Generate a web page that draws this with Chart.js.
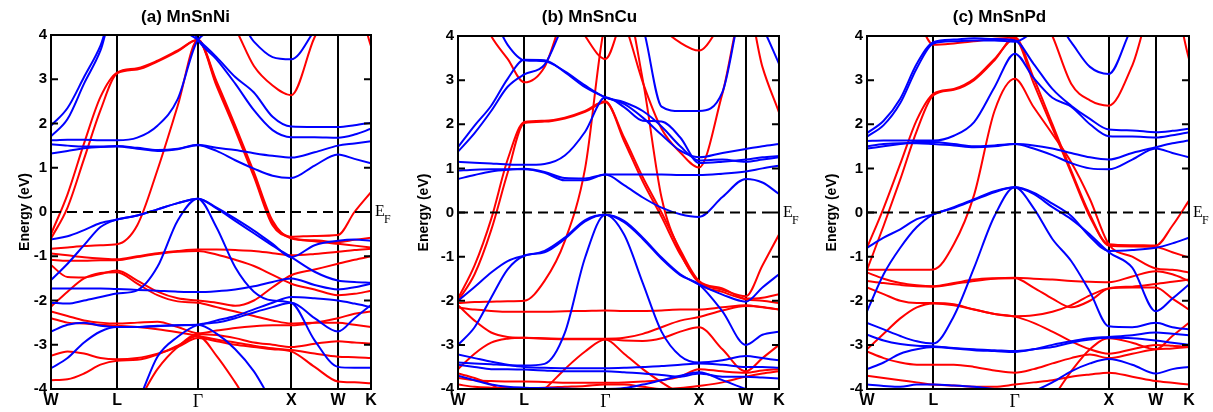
<!DOCTYPE html>
<html>
<head>
<meta charset="utf-8">
<script src="https://cdn.jsdelivr.net/npm/chart.js@4.4.1/dist/chart.umd.min.js"></script>
<style>
    body { margin: 0; background: #fff; }
    #wrap { position: relative; width: 1213px; height: 412px; }
    canvas { position: absolute; top: 0; }
</style>
</head>
<body>
<div id="wrap">
    <canvas id="ni" width="400" height="412" style="left:0px"></canvas>
    <canvas id="cu" width="410" height="412" style="left:400px"></canvas>
    <canvas id="pd" width="403" height="412" style="left:810px"></canvas>
</div>
<script>
// k-path W-L-Γ-X-W-K (units of 2π/a), sample points shared by all bands
const kPath = [0, 0.177, 0.354, 0.530, 0.707, 0.924, 1.140, 1.357, 1.573, 1.773, 1.973, 2.173, 2.373, 2.573, 2.823, 3.073, 3.250, 3.427];
const kTicks = [0, 0.707, 1.573, 2.573, 3.073, 3.427];
const kLabels = ['W', 'L', 'Γ', 'X', 'W', 'K'];
const energyTicks = [-4, -3, -2, -1, 0, 1, 2, 3, 4];
const fermiLevel = 0;

// (a) MnSnNi
const niRed = [
    [-0.5, 0.4, 1.55, 2.6, 3.15, 3.25, 3.42, 3.65, 3.89, 2.85, 1.85, 0.8, -0.3, -0.56, -0.54, -0.52, 0.0, 0.45],
    [-0.6, 0.1, 1.2, 2.3, 3.13, 3.22, 3.4, 3.63, 3.89, 2.95, 1.95, 0.9, -0.2, -0.6, -0.64, -0.68, -0.63, -0.58],
    [-0.83, -0.8, -0.77, -0.75, -0.73, -0.3, 0.95, 2.4, 3.89, 2.9, 1.9, 0.85, -0.25, -0.58, -0.66, -0.72, -0.76, -0.8],
    [-0.94, -0.98, -1.02, -1.05, -1.07, -1.0, -0.93, -0.88, -0.85, -0.85, -0.86, -0.88, -0.93, -0.98, -0.95, -0.9, -0.86, -0.83],
    [-1.08, -1.1, -1.1, -1.09, -1.09, -1.02, -0.95, -0.9, -0.88, -0.96, -1.08, -1.22, -1.42, -1.62, -1.75, -1.88, -1.85, -1.78],
    [-1.2, -1.47, -1.48, -1.4, -1.32, -1.55, -1.8, -1.95, -2.0, -2.05, -2.12, -2.0, -1.7, -1.43, -1.3, -1.17, -1.08, -1.0],
    [-2.14, -1.8, -1.5, -1.38, -1.36, -1.62, -1.88, -2.02, -2.05, -2.15, -2.25, -2.35, -2.45, -2.52, -2.5, -2.5, -2.55, -2.6],
    [-2.25, -2.35, -2.45, -2.5, -2.52, -2.5, -2.48, -2.6, -2.74, -2.68, -2.62, -2.58, -2.56, -2.56, -2.5, -2.4, -2.3, -2.25],
    [-2.4, -2.5, -2.52, -2.55, -2.57, -2.6, -2.65, -2.72, -2.8, -2.88, -2.95, -3.02, -3.08, -3.12, -3.2, -3.27, -3.28, -3.3],
    [-3.25, -3.15, -3.2, -3.3, -3.33, -3.3, -3.2, -3.05, -2.85, -2.92, -3.0, -3.05, -3.1, -3.15, -3.5, -3.83, -3.85, -3.87],
    [-3.8, -3.78, -3.65, -3.45, -3.36, -3.34, -3.22, -3.02, -2.8, -3.25, -3.85, -4.5, -4.8, -4.8, -4.8, -4.8, -4.8, -4.8],
    [-4.8, -4.8, -4.8, -4.8, -4.8, -4.3, -3.55, -3.05, -2.76, -2.78, -2.85, -2.95, -3.0, -3.05, -2.98, -2.92, -2.95, -2.97],
    [4.8, 4.8, 4.8, 4.8, 4.8, 4.8, 4.8, 4.8, 4.8, 4.8, 4.15, 3.3, 2.86, 2.64, 3.95, 4.8, 4.8, 3.75]
];
const niBlue = [
    [1.95, 2.35, 3.05, 3.76, 4.8, 4.8, 4.8, 4.2, 3.89, 3.5, 3.05, 2.7, 2.15, 1.93, 1.92, 1.92, 1.96, 2.02],
    [1.71, 2.1, 2.9, 3.65, 4.8, 4.8, 4.8, 4.8, 3.89, 3.45, 2.9, 2.3, 1.85, 1.69, 1.69, 1.68, 1.75, 1.88],
    [1.62, 1.63, 1.63, 1.62, 1.62, 1.68, 1.95, 2.55, 3.89, 4.1, 4.4, 3.85, 3.5, 3.45, 4.1, 4.8, 4.8, 4.8],
    [1.53, 1.5, 1.48, 1.48, 1.49, 1.45, 1.4, 1.43, 1.52, 1.45, 1.4, 1.33, 1.27, 1.23, 1.35, 1.5, 1.55, 1.6],
    [1.32, 1.38, 1.44, 1.47, 1.48, 1.43, 1.38, 1.42, 1.51, 1.38, 1.17, 0.98, 0.82, 0.77, 1.05, 1.3, 1.2, 1.1],
    [-0.62, -0.55, -0.41, -0.25, -0.17, -0.08, 0.06, 0.2, 0.3, 0.1, -0.15, -0.42, -0.72, -1.02, -0.75, -0.65, -0.62, -0.65],
    [-1.54, -1.17, -0.75, -0.34, -0.17, -0.08, 0.06, 0.2, 0.3, 0.08, -0.2, -0.48, -0.76, -1.02, -1.35, -1.55, -1.58, -1.6],
    [-2.05, -2.07, -2.0, -1.92, -1.84, -1.77, -1.24, -0.19, 0.3, -0.35, -1.25, -1.8, -2.0, -2.05, -2.9, -3.5, -3.52, -3.52],
    [-1.73, -1.73, -1.73, -1.73, -1.74, -1.76, -1.78, -1.8, -1.81, -1.79, -1.75, -1.68, -1.58, -1.5, -1.65, -1.75, -1.7, -1.62],
    [-2.7, -2.55, -2.5, -2.57, -2.6, -2.6, -2.58, -2.56, -2.55, -2.45, -2.35, -2.2, -2.05, -1.92, -1.95, -2.0, -2.07, -2.15],
    [-3.53, -3.3, -2.95, -2.7, -2.6, -2.6, -2.57, -2.56, -2.55, -2.75, -3.1, -3.6, -4.3, -4.8, -4.8, -4.8, -4.8, -4.8],
    [-4.8, -4.8, -4.8, -4.8, -4.8, -4.3, -3.27, -2.82, -2.55, -2.5, -2.4, -2.27, -2.15, -2.05, -2.4, -2.7, -2.4, -2.1]
];

// (b) MnSnCu
const cuRed = [
    [-1.95, -1.2, -0.15, 1.2, 2.05, 2.08, 2.15, 2.3, 2.52, 1.62, 0.7, -0.1, -0.95, -1.57, -1.75, -1.9, -1.2, -0.5],
    [-2.0, -1.4, -0.4, 0.9, 2.03, 2.06, 2.13, 2.28, 2.5, 1.7, 0.8, 0.0, -0.85, -1.55, -1.72, -1.95, -1.93, -1.85],
    [-2.05, -2.03, -2.02, -2.01, -2.0, -1.55, -0.65, 1.0, 4.3, 4.8, 3.0, 0.34, -0.9, -1.6, -1.8, -1.97, -2.0, -2.05],
    [4.8, 4.8, 4.8, 4.8, 4.8, 4.8, 4.8, 4.8, 4.8, 4.3, 2.95, 1.9, 1.36, 1.02, 2.7, 4.8, 4.8, 4.8],
    [4.8, 4.8, 4.8, 4.8, 4.8, 4.8, 4.8, 4.8, 4.8, 4.8, 4.8, 4.2, 3.85, 3.67, 4.3, 4.8, 4.8, 4.8],
    [4.8, 4.8, 4.8, 4.8, 4.8, 4.8, 4.8, 4.8, 4.8, 4.8, 4.8, 4.8, 4.8, 4.8, 4.8, 4.8, 3.3, 2.27],
    [4.8, 4.8, 4.0, 3.48, 2.95, 3.3, 4.5, 4.8, 4.8, 4.8, 4.8, 4.8, 4.8, 4.8, 4.8, 4.8, 4.8, 4.8],
    [4.8, 4.8, 4.8, 4.8, 4.8, 4.8, 4.8, 4.0, 3.48, 4.5, 4.8, 4.8, 4.8, 4.8, 4.8, 4.8, 4.8, 4.8],
    [-2.15, -2.2, -2.23, -2.25, -2.25, -2.25, -2.24, -2.23, -2.22, -2.23, -2.23, -2.22, -2.2, -2.2, -2.15, -2.1, -2.15, -2.2],
    [-2.1, -2.45, -2.72, -2.82, -2.84, -2.86, -2.87, -2.87, -2.87, -2.9, -2.91, -2.85, -2.7, -2.6, -3.1, -3.6, -3.3, -3.0],
    [-3.55, -3.2, -2.95, -2.86, -2.84, -2.85, -2.86, -2.86, -2.86, -2.84, -2.75, -2.6, -2.45, -2.37, -2.22, -2.12, -2.14, -2.2],
    [-3.65, -3.75, -3.9, -4.1, -4.3, -4.0, -3.55, -3.15, -2.88, -3.2, -3.55, -3.85, -4.1, -4.3, -4.3, -4.2, -4.2, -4.2],
    [-3.75, -3.8, -3.82, -3.83, -3.83, -3.84, -3.86, -3.86, -3.86, -3.85, -3.83, -3.8, -3.72, -3.55, -3.6, -3.63, -3.58, -3.55],
    [-3.9, -3.95, -3.97, -3.98, -3.98, -3.97, -3.95, -3.93, -3.9, -3.9, -3.95, -4.0, -3.98, -3.93, -3.85, -3.72, -3.65, -3.6]
];
const cuBlue = [
    [1.48, 1.97, 2.42, 3.03, 3.46, 3.45, 3.18, 2.84, 2.61, 2.46, 2.15, 1.76, 1.4, 1.25, 1.35, 1.44, 1.5, 1.55],
    [1.38, 1.8, 2.3, 2.85, 3.13, 3.35, 4.3, 4.8, 4.8, 4.8, 4.2, 2.4, 2.3, 2.3, 2.73, 4.8, 4.2, 3.37],
    [1.15, 1.13, 1.11, 1.09, 1.08, 1.1, 1.29, 1.83, 2.61, 2.39, 2.08, 2.06, 1.7, 1.12, 1.15, 1.2, 1.25, 1.28],
    [0.95, 0.97, 0.98, 0.98, 0.98, 0.9, 0.73, 0.73, 0.86, 0.86, 0.86, 0.86, 0.85, 0.85, 0.88, 0.93, 1.0, 1.06],
    [0.76, 0.85, 0.93, 0.97, 0.99, 0.92, 0.78, 0.77, 0.86, 0.62, 0.34, 0.11, -0.04, -0.1, 0.35, 0.76, 0.68, 0.42],
    [4.8, 4.8, 4.5, 3.8, 3.45, 3.43, 3.2, 2.88, 2.61, 2.5, 2.3, 1.95, 1.5, 1.18, 1.2, 1.15, 1.2, 1.25],
    [-2.0, -1.69, -1.36, -1.1, -0.98, -0.87, -0.57, -0.17, -0.05, -0.19, -0.57, -1.02, -1.4, -1.63, -1.86, -2.02, -1.7, -1.4],
    [-3.0, -2.6, -1.93, -1.29, -0.98, -0.9, -0.6, -0.2, -0.05, -0.22, -0.6, -1.05, -1.42, -1.63, -2.24, -3.0, -2.77, -2.7],
    [-3.4, -3.42, -3.44, -3.46, -3.47, -3.43, -2.73, -1.02, -0.05, -0.5, -1.6, -2.7, -3.25, -3.4, -3.35, -3.25, -3.3, -3.35],
    [-3.22, -3.3, -3.38, -3.45, -3.5, -3.52, -3.53, -3.53, -3.53, -3.52, -3.5, -3.48, -3.45, -3.42, -3.45, -3.5, -3.5, -3.52],
    [-3.45, -3.5, -3.55, -3.55, -3.56, -3.58, -3.6, -3.6, -3.6, -3.62, -3.65, -3.68, -3.72, -3.65, -3.72, -3.72, -3.74, -3.76],
    [-3.7, -3.8, -3.9, -3.95, -3.97, -3.98, -3.99, -4.0, -4.0, -3.98, -3.9, -3.8, -3.7, -3.62, -3.8, -4.0, -4.1, -4.2]
];

// (c) MnSnPd
const pdRed = [
    [-0.8, 0.1, 1.1, 2.1, 2.69, 2.8, 3.03, 3.48, 3.94, 2.93, 1.92, 0.9, -0.1, -0.72, -0.74, -0.75, -0.3, 0.27],
    [-1.3, -0.3, 0.75, 1.85, 2.66, 2.78, 3.0, 3.45, 3.97, 3.05, 2.0, 0.95, -0.05, -0.75, -0.77, -0.78, -0.9, -1.02],
    [-1.3, -1.3, -1.3, -1.3, -1.29, -0.72, 0.4, 2.3, 3.03, 2.39, 1.78, 1.14, 0.3, -0.72, -1.0, -1.27, -1.3, -1.36],
    [4.8, 4.8, 4.8, 4.8, 4.8, 4.8, 4.8, 4.8, 4.8, 4.8, 4.0, 2.92, 2.54, 2.42, 3.33, 4.8, 4.8, 3.48],
    [4.8, 4.8, 4.8, 4.4, 3.8, 3.83, 3.88, 3.94, 3.98, 4.5, 4.8, 4.8, 4.8, 4.8, 4.8, 4.8, 4.8, 4.8],
    [-1.36, -1.5, -1.6, -1.65, -1.67, -1.6, -1.52, -1.49, -1.48, -1.5, -1.52, -1.55, -1.57, -1.58, -1.45, -1.33, -1.4, -1.55],
    [-1.55, -1.6, -1.64, -1.67, -1.68, -1.62, -1.55, -1.5, -1.49, -1.7, -1.95, -2.15, -2.0, -1.72, -1.68, -1.62, -1.57, -1.52],
    [-1.7, -1.85, -2.0, -2.05, -2.05, -2.08, -2.2, -2.3, -2.35, -2.33, -2.25, -2.1, -1.88, -1.72, -1.7, -1.7, -1.95, -2.2],
    [-3.1, -2.75, -2.4, -2.15, -2.06, -2.1, -2.2, -2.3, -2.36, -2.5, -2.7, -2.92, -3.1, -3.2, -3.1, -3.0, -3.02, -3.05],
    [-3.15, -3.3, -3.4, -3.45, -3.45, -3.45, -3.5, -3.58, -3.63, -3.55, -3.42, -3.3, -3.22, -3.3, -3.2, -3.1, -3.08, -3.05],
    [-3.7, -3.75, -3.8, -3.85, -3.9, -3.92, -3.95, -3.95, -3.9, -3.85, -3.8, -3.72, -3.67, -3.63, -3.72, -3.82, -3.86, -3.9],
    [-4.8, -4.8, -4.8, -4.8, -4.8, -4.8, -4.8, -4.8, -4.8, -4.6, -4.2, -3.6, -3.1, -2.85, -2.95, -3.1, -2.8, -2.5]
];
const pdBlue = [
    [1.8, 2.08, 2.58, 3.37, 3.86, 3.92, 3.95, 3.93, 3.9, 3.37, 2.8, 2.42, 2.12, 1.88, 1.86, 1.82, 1.85, 1.9],
    [1.72, 1.98, 2.48, 3.27, 3.83, 3.88, 3.9, 3.9, 3.87, 4.1, 4.4, 3.86, 3.3, 3.14, 4.2, 4.8, 4.8, 4.8],
    [1.62, 1.63, 1.63, 1.63, 1.63, 1.74, 2.05, 2.84, 3.6, 3.05, 2.6, 2.4, 2.0, 1.73, 1.72, 1.7, 1.75, 1.82],
    [1.5, 1.55, 1.57, 1.57, 1.55, 1.52, 1.48, 1.5, 1.55, 1.52, 1.45, 1.35, 1.25, 1.2, 1.35, 1.48, 1.57, 1.63],
    [1.45, 1.5, 1.55, 1.6, 1.6, 1.55, 1.5, 1.52, 1.55, 1.45, 1.3, 1.12, 1.0, 0.98, 1.2, 1.45, 1.35, 1.25],
    [-0.8, -0.57, -0.38, -0.15, -0.04, 0.12, 0.3, 0.48, 0.57, 0.45, 0.2, -0.08, -0.55, -0.87, -0.85, -0.8, -0.7, -0.57],
    [-2.24, -1.4, -0.8, -0.33, -0.04, 0.1, 0.28, 0.46, 0.57, 0.42, 0.12, -0.15, -0.5, -0.9, -1.25, -2.24, -1.95, -1.63],
    [-2.5, -2.65, -2.8, -2.92, -2.97, -2.35, -1.25, -0.08, 0.57, 0.1, -0.6, -1.1, -1.8, -2.58, -2.6, -2.5, -2.6, -2.65],
    [-2.77, -2.9, -2.98, -3.02, -3.03, -3.07, -3.1, -3.12, -3.14, -3.1, -3.05, -2.95, -2.88, -2.84, -2.85, -2.9, -2.95, -3.0],
    [-3.55, -3.4, -3.2, -3.1, -3.05, -3.08, -3.12, -3.14, -3.16, -3.1, -3.0, -2.92, -2.85, -2.82, -2.78, -2.72, -2.75, -2.78],
    [-4.8, -4.8, -4.8, -4.8, -4.8, -4.8, -4.6, -4.4, -4.2, -4.05, -3.85, -3.6, -3.42, -3.32, -3.45, -3.65, -3.55, -3.5],
    [-3.9, -3.93, -3.95, -3.9, -3.9, -3.92, -3.95, -4.0, -4.05, -4.2, -4.5, -4.8, -4.8, -4.8, -4.8, -4.8, -4.8, -4.8]
];

function bandSets(bands, color) {
    return bands.map(b => ({
        data: b.map((e, i) => ({ x: kPath[i], y: e })),
        borderColor: color,
        borderWidth: 2,
        pointRadius: 0,
        cubicInterpolationMode: 'monotone',
        fill: false
    }));
}

// frame, inward ticks and the E_F label
const framePlugin = {
    id: 'frame',
    afterDatasetsDraw(chart) {
        const { ctx, chartArea: a, scales: { y } } = chart;
        ctx.save();
        ctx.strokeStyle = '#000';
        ctx.lineWidth = 2;
        ctx.strokeRect(a.left, a.top, a.right - a.left, a.bottom - a.top);
        ctx.beginPath();
        energyTicks.forEach(v => {
            const py = y.getPixelForValue(v);
            ctx.moveTo(a.left, py);
            ctx.lineTo(a.left + 7, py);
            ctx.moveTo(a.right - 7, py);
            ctx.lineTo(a.right, py);
        });
        ctx.stroke();
        const fy = y.getPixelForValue(fermiLevel);
        ctx.fillStyle = '#000';
        ctx.textBaseline = 'alphabetic';
        ctx.font = '16px "Liberation Serif"';
        ctx.fillText('E', a.right + 4, fy + 4);
        ctx.font = '12px "Liberation Serif"';
        ctx.fillText('F', a.right + 13, fy + 11);
        ctx.restore();
    }
};

function makePanel(id, title, red, blue, yWidth, padRight, labelPad, titleBottom) {
    const fermi = {
        data: [{ x: kPath[0], y: fermiLevel }, { x: kPath[kPath.length - 1], y: fermiLevel }],
        borderColor: '#000',
        borderWidth: 2,
        borderDash: [10, 6],
        pointRadius: 0
    };
    return new Chart(document.getElementById(id), {
        type: 'line',
        data: { datasets: [fermi, ...bandSets(blue, '#0000ff'), ...bandSets(red, '#ff0000')] },
        options: {
            responsive: false,
            animation: false,
            elements: { line: { capBezierPoints: false } },
            layout: { padding: { left: 0, right: padRight, top: 0, bottom: 0 } },
            plugins: {
                legend: { display: false },
                tooltip: { enabled: false },
                title: {
                    display: true,
                    text: title,
                    color: '#000',
                    font: { family: 'Liberation Sans', size: 17, weight: 'bold' },
                    padding: { top: 7, bottom: titleBottom }
                }
            },
            scales: {
                x: {
                    type: 'linear',
                    min: kPath[0],
                    max: kPath[kPath.length - 1],
                    afterBuildTicks: s => { s.ticks = kTicks.map(v => ({ value: v })); },
                    afterFit: s => { s.height = 23; },
                    grid: { color: '#000', lineWidth: 2, drawTicks: false },
                    border: { color: '#000', width: 2 },
                    ticks: {
                        autoSkip: false,
                        maxRotation: 0,
                        padding: 2,
                        color: '#000',
                        callback: (v, i) => kLabels[i],
                        font: c => kLabels[c.index] === 'Γ'
                            ? { family: 'Liberation Serif', size: 18 }
                            : { family: 'Liberation Sans', size: 16, weight: 'bold' }
                    }
                },
                y: {
                    min: -4,
                    max: 4,
                    afterFit: s => { s.width = yWidth; },
                    grid: { display: false, drawTicks: false },
                    border: { color: '#000', width: 2 },
                    ticks: {
                        stepSize: 1,
                        padding: 4,
                        color: '#000',
                        font: { family: 'Liberation Sans', size: 15, weight: 'bold' }
                    },
                    title: {
                        display: true,
                        text: 'Energy (eV)',
                        color: '#000',
                        font: { family: 'Liberation Sans', size: 14, weight: 'bold' },
                        padding: { top: labelPad, bottom: 0 }
                    }
                }
            }
        },
        plugins: [framePlugin]
    });
}

makePanel('ni', '(a) MnSnNi', niRed, niBlue, 51, 29, 17, 7.6);
makePanel('cu', '(b) MnSnCu', cuRed, cuBlue, 58, 31, 16, 8.6);
makePanel('pd', '(c) MnSnPd', pdRed, pdBlue, 57, 24, 14, 8.6);
</script>
</body>
</html>
